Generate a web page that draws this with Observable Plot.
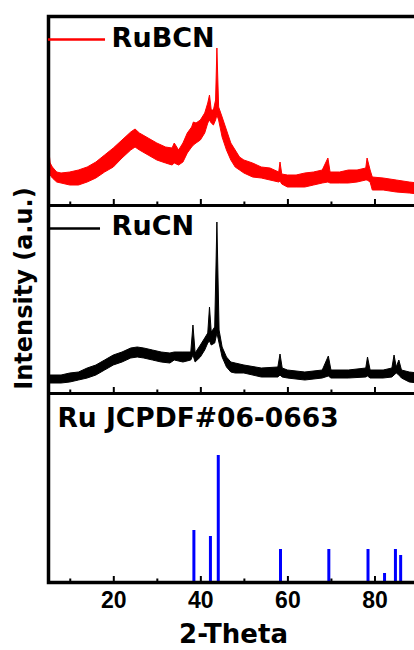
<!DOCTYPE html>
<html><head><meta charset="utf-8">
<script src="https://cdn.jsdelivr.net/npm/d3@7"></script>
<script src="https://cdn.jsdelivr.net/npm/@observablehq/plot@0.6"></script>
<style>
html,body{margin:0;padding:0;background:#fff;overflow:hidden;width:414px;height:650px}
#chart svg{display:block;max-width:none !important;overflow:visible}
</style></head><body><div id="chart"></div>
<script>
// ---- data ----
const seriesNames = ["RuBCN", "RuCN", "Ru JCPDF#06-0663"];
const stackOffset = [377, 189, 0]; // vertical stacking offset of each pattern (intensity units)

const thetaBCN = [5,5.5,6,7,8,10,12,14,16,18,20,22,24,25,26,28,30,32,33.5,34,35,36,37,38,38.4,39,40,41,41.7,42.1,42.5,43,43.5,43.8,44.2,45,46,47,48,49,50,52,54,56,58,58.3,58.7,60,62,64,66,68,69.3,69.8,72,74,76,78,78.3,79,79.5,82,85,88,90];
const loBCN = [45,30,27,23,22,20,20,23,27,33,38,47,55,58,55,50,45,42,40,42,40,43,52,58,60,62,65,72,82,85,82,80,85,90,85,68,55,45,38,35,32,28,27,25,23,24,21,18,18,18,20,22,23,22,22,22,23,25,25,23,15,15,13,12,11];
const hiBCN = [62,42,38,33,32,33,35,38,43,50,57,65,73,76,72,67,62,58,57,62,55,62,72,78,83,82,85,92,102,110,95,95,105,157,98,88,75,62,55,48,45,42,38,37,33,43,31,30,30,32,33,35,47,33,33,35,35,37,47,35,28,27,25,23,22];

const thetaCN = [5,8,10,12,14,16,18,20,22,24,25.5,27,29,31,33,34,36,37.8,38.3,38.8,40,41,41.7,42.1,42.5,43.3,43.8,44.3,45,46,47,48,50,54,57.8,58.3,58.8,60,64,68,69.4,70,74,78,78.4,79,82,84,84.5,85,85.6,86.2,88,90];
const loCN = [10,10,11,13,15,18,23,28,31,35,36,35,33,31,30,33,31,33,38,31,36,43,50,52,48,50,60,50,36,26,21,20,20,16,16,18,16,15,13,15,17,15,15,16,17,15,15,16,18,20,18,15,11,10];
const hiCN = [18,18,20,21,25,28,33,38,41,45,46,45,43,41,40,41,41,41,68,40,48,55,60,86,61,66,171,63,46,36,31,30,28,25,26,39,25,23,21,23,37,23,23,25,36,23,23,25,38,26,33,23,21,20];

const refTheta = [38.4, 42.2, 44.0, 58.3, 69.4, 78.4, 82.2, 84.7, 85.9];
const refHeight = [52, 46, 127, 33, 33, 33, 9, 33, 27];

const tickValues = [10, 20, 30, 40, 50, 60, 70, 80, 90];
const tickLabels = [20, 40, 60, 80];
const xTitle = "2-Theta";
const yTitle = "Intensity (a.u.)";

// ---- build tables ----
const bcn = thetaBCN.map((t, i) => ({t, lo: loBCN[i] + stackOffset[0], hi: hiBCN[i] + stackOffset[0]}));
const cn = thetaCN.map((t, i) => ({t, lo: loCN[i] + stackOffset[1], hi: hiCN[i] + stackOffset[1]}));
const ref = refTheta.map((t, i) => ({t, base: stackOffset[2], top: refHeight[i] + stackOffset[2]}));
const ticks = tickValues.flatMap(v => stackOffset.map(b => ({x: v, y1: b, y2: b + (tickLabels.includes(v) ? 6 : 3.5)})));

const F = "'DejaVu Sans', sans-serif";
const FT = "'Liberation Sans', Arial, sans-serif";
const legend = [
  {x1: 5, x2: 18.1, y: 543, tx: 19.5, ty: 544, label: seriesNames[0], color: "#ff0000"},
  {x1: 5, x2: 16.95, y: 354, tx: 19.5, ty: 356, label: seriesNames[1], color: "#000000"}
];
const refLabel = [{tx: 7.05, ty: 164, label: seriesNames[2]}];

const plot = Plot.plot({
  width: 420, height: 650,
  marginLeft: 48, marginRight: 2, marginTop: 16, marginBottom: 68,
  x: {domain: [5, 90], axis: null},
  y: {domain: [0, 566], axis: null},
  marks: [
    Plot.areaY(bcn, {x: "t", y1: "lo", y2: "hi", fill: "#ff0000", stroke: "#ff0000", strokeWidth: 1}),
    Plot.areaY(cn, {x: "t", y1: "lo", y2: "hi", fill: "#000000", stroke: "#000000", strokeWidth: 1}),
    Plot.ruleX(ref, {x: "t", y1: "base", y2: "top", stroke: "#0000ff", strokeWidth: 3}),
    Plot.ruleX(ticks, {x: "x", y1: "y1", y2: "y2", stroke: "#000", strokeWidth: 2}),
    Plot.ruleY(stackOffset, {stroke: "#000", strokeWidth: 3}),
    Plot.frame({stroke: "#000", strokeWidth: 3.5}),
    Plot.ruleY(legend, {x1: "x1", x2: "x2", y: "y", stroke: "color", strokeWidth: 2.5}),
    Plot.text(legend, {x: "tx", y: "ty", text: "label", textAnchor: "start", lineAnchor: "middle", fontSize: 27, fontWeight: "bold", fontFamily: F, fill: "#000"}),
    Plot.text(refLabel, {x: "tx", y: "ty", text: "label", textAnchor: "start", lineAnchor: "middle", fontSize: 26.5, fontWeight: "bold", fontFamily: F, fill: "#000"}),
    Plot.text(tickLabels, {x: d => d, text: d => String(d), frameAnchor: "bottom", dy: 18.6, textAnchor: "middle", lineAnchor: "middle", fontSize: 23, fontWeight: "bold", fontFamily: FT, fill: "#000"}),
    Plot.text([xTitle], {text: d => d, frameAnchor: "bottom", dy: 52.5, textAnchor: "middle", lineAnchor: "middle", fontSize: 26, fontWeight: "bold", fontFamily: F, fill: "#000"}),
    Plot.text([yTitle], {text: d => d, frameAnchor: "left", rotate: -90, dx: -24, dy: -11, textAnchor: "middle", lineAnchor: "middle", fontSize: 24, fontWeight: "bold", fontFamily: F, fill: "#000"})
  ]
});
plot.style.maxWidth = "none";
document.getElementById("chart").appendChild(plot);
</script></body></html>
